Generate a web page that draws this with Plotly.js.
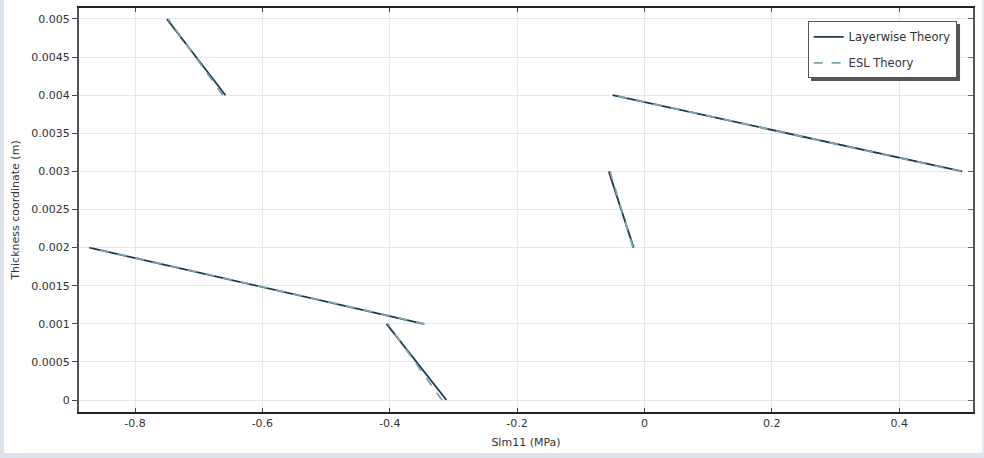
<!DOCTYPE html>
<html>
<head>
<meta charset="utf-8">
<script src="https://cdn.plot.ly/plotly-3.0.1.min.js"></script>
<style>
html,body{margin:0;padding:0;background:#fff;}
#wrap{position:relative;width:984px;height:458px;}
#chart{width:984px;height:458px;}
#frame{position:absolute;left:0;top:0;width:984px;height:458px;box-sizing:border-box;border-left:4px solid #dde3ea;border-bottom:5px solid #dde3ea;border-right:2px solid #e6ebf0;pointer-events:none;}
</style>
</head>
<body>
<div id="wrap"><div id="chart"></div><div id="frame"></div></div>
<script>
// Layer bounds (thickness coordinate, m)
const layerBottom = [0, 0.001, 0.002, 0.003, 0.004];
const layerTop    = [0.001, 0.002, 0.003, 0.004, 0.005];
// Stress Slm11 (MPa) at bottom / top of each layer
const layerwiseAtBottom = [-0.311, -0.347, -0.017, 0.499, -0.658];
const layerwiseAtTop    = [-0.405, -0.872, -0.056, -0.050, -0.750];
const eslAtBottom       = [-0.318, -0.345, -0.018, 0.497, -0.662];
const eslAtTop          = [-0.403, -0.870, -0.054, -0.048, -0.748];
const xTicks = [-0.8, -0.6, -0.4, -0.2, 0, 0.2, 0.4];
const yTicks = [0, 0.0005, 0.001, 0.0015, 0.002, 0.0025, 0.003, 0.0035, 0.004, 0.0045, 0.005];
const yTickLabels = ['0','0.0005','0.001','0.0015','0.002','0.0025','0.003','0.0035','0.004','0.0045','0.005'];

function build(bot, top) {
  const x = [], y = [];
  for (let i = 0; i < layerBottom.length; i++) {
    x.push(bot[i], top[i], null);
    y.push(layerBottom[i], layerTop[i], null);
  }
  return {x, y};
}
const lw = build(layerwiseAtBottom, layerwiseAtTop);
const esl = build(eslAtBottom, eslAtTop);

const traces = [
  {x: lw.x, y: lw.y, mode: 'lines', name: 'Layerwise Theory', legendgroup: 'a', line: {color: '#1d3a4a', width: 1.8}, connectgaps: false},
  {x: esl.x, y: esl.y, mode: 'lines', name: 'ESL Theory', legendgroup: 'b', line: {color: '#7ea3b5', width: 1.8, dash: 'dash'}, connectgaps: false},
  {x: [null], y: [null], yaxis: 'y2', showlegend: false, hoverinfo: 'skip'}
];

const font = {family: 'DejaVu Sans, Verdana, sans-serif', size: 11, color: '#333'};
const layout = {
  width: 984, height: 458,
  margin: {l: 79, r: 11, t: 8, b: 46},
  paper_bgcolor: '#fff', plot_bgcolor: '#fff',
  font: font,
  showlegend: true,
  legend: {x: 0.815, y: 0.967, xanchor: 'left', yanchor: 'top', bgcolor: '#fff', bordercolor: '#555', borderwidth: 1,
           font: {family: 'DejaVu Sans, Verdana, sans-serif', size: 11.5, color: '#333'}, tracegroupgap: 7, itemwidth: 30,
           traceorder: 'grouped'},
  xaxis: {range: [-0.888, 0.516], tickvals: xTicks, ticktext: xTicks.map(v => String(v)), ticks: 'inside', ticklen: 4, tickcolor: '#444',
          showline: true, linecolor: '#222', linewidth: 2, mirror: 'ticks', showgrid: true, gridcolor: '#e8e8e8', zeroline: false,
          title: {text: 'Slm11 (MPa)', font: {size: 11, color: '#333'}, standoff: 9}, tickfont: {size: 11, color: '#333'}},
  yaxis: {range: [-0.000157, 0.005144], tickvals: yTicks, ticktext: yTickLabels, ticks: 'outside', ticklen: 5, tickcolor: '#444',
          showline: true, linecolor: '#555', linewidth: 2, mirror: true, showgrid: true, gridcolor: '#e8e8e8', zeroline: false,
          title: {text: 'Thickness coordinate (m)', font: {size: 11, color: '#333'}, standoff: 9}, tickfont: {size: 11, color: '#333'}},
  yaxis2: {overlaying: 'y', side: 'right', range: [-0.000157, 0.005144], tickvals: yTicks, ticks: 'inside', ticklen: 5, tickcolor: '#666',
           showticklabels: false, showgrid: false, zeroline: false, showline: false},
  shapes: [
    {type: 'rect', xref: 'paper', yref: 'paper', x0: 0.8188, x1: 0.9855, y0: 0.8193, y1: 0.9604, line: {width: 0}, fillcolor: '#555', layer: 'above'}
  ]
};
Plotly.newPlot('chart', traces, layout, {displayModeBar: false, staticPlot: true});
</script>
</body>
</html>
